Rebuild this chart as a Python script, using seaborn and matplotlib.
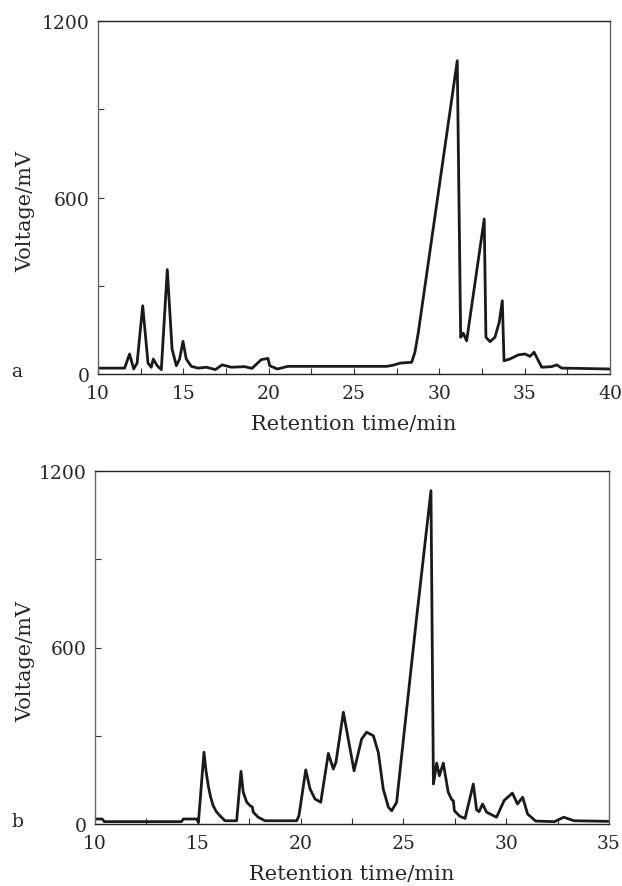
import matplotlib
matplotlib.use("Agg")
import matplotlib.pyplot as plt
from matplotlib.ticker import MultipleLocator
import pandas as pd
import seaborn as sns

# Panel a: chromatogram, retention time (min) vs voltage (mV)
TIME_A = [10.0, 11.56, 11.85, 12.09, 12.29, 12.62, 12.93, 13.12, 13.24, 13.47, 13.71,
          14.06, 14.34, 14.59, 14.78, 14.98, 15.17, 15.47, 15.86, 16.35, 16.88, 17.27,
          17.82, 18.6, 19.02, 19.57, 19.96, 20.06, 20.51, 21.13, 26.9, 27.3, 27.7,
          28.38, 28.57, 28.77, 31.05, 31.25, 31.4, 31.5, 31.6, 32.63, 32.73, 32.97,
          33.26, 33.51, 33.69, 33.79, 34.14, 34.63, 35.02, 35.31, 35.55, 36.0, 36.58,
          36.88, 37.17, 38.24, 40.0]
VOLT_A = [20, 20, 68, 17, 37, 232, 37, 23, 51, 28, 15,
          355, 85, 28, 51, 111, 51, 26, 20, 23, 15, 31,
          23, 25, 19, 49, 53, 28, 17, 26, 26, 30, 37,
          40, 74, 142, 1065, 125, 139, 125, 113, 527, 125, 110,
          125, 176, 249, 45, 51, 65, 68, 60, 74, 23, 25,
          31, 20, 19, 17]

# Panel b
TIME_B = [10.0, 10.35, 10.45, 14.2, 14.3, 14.95, 15.03, 15.3, 15.4, 15.51, 15.62,
          15.75, 15.9, 16.08, 16.32, 16.89, 17.1, 17.21, 17.38, 17.55, 17.65, 17.7,
          17.94, 18.27, 19.81, 19.92, 20.25, 20.46, 20.7, 20.98, 21.35, 21.59, 21.72,
          22.08, 22.6, 22.97, 23.21, 23.54, 23.78, 24.02, 24.27, 24.43, 24.67, 25.16,
          25.64, 26.34, 26.46, 26.62, 26.75, 26.94, 27.18, 27.35, 27.43, 27.48, 27.75,
          28.0, 28.4, 28.56, 28.68, 28.85, 29.05, 29.53, 29.9, 30.3, 30.55, 30.8,
          31.04, 31.43, 32.35, 32.8, 33.3, 35.0]
VOLT_B = [17, 17, 8, 8, 17, 17, 5, 244, 180, 130, 92,
          62, 42, 28, 11, 11, 179, 108, 74, 62, 58, 40,
          23, 11, 11, 28, 184, 119, 85, 74, 240, 187, 210,
          380, 181, 289, 312, 300, 243, 119, 57, 45, 74, 391,
          700, 1133, 136, 207, 164, 207, 108, 83, 79, 45, 26,
          19, 136, 48, 42, 68, 40, 23, 80, 105, 68, 91,
          34, 10, 8, 23, 11, 9]

PANELS = [
    ("a", TIME_A, VOLT_A, (10, 40)),
    ("b", TIME_B, VOLT_B, (10, 35)),
]

sns.set_theme(style="ticks")
plt.rcParams["font.family"] = ["DejaVu Serif"]
TICK_FS = 13.5
LABEL_FS = 15

fig = plt.figure(figsize=(6.22, 8.87), dpi=100)
W, H = 622, 887
boxes = [(98, 22, 610, 375), (95, 472, 609, 825)]

for (letter, t, v, xlim), (x0, y0, x1, y1) in zip(PANELS, boxes):
    ax = fig.add_axes([x0 / W, 1 - y1 / H, (x1 - x0) / W, (y1 - y0) / H])
    df = pd.DataFrame({"time": t, "voltage": v})
    sns.lineplot(data=df, x="time", y="voltage", ax=ax, color="#1a1a1a",
                 linewidth=2.0, sort=False)
    ax.set_xlim(*xlim)
    ax.set_ylim(0, 1200)
    ax.xaxis.set_major_locator(MultipleLocator(5))
    ax.xaxis.set_minor_locator(MultipleLocator(2.5))
    ax.yaxis.set_major_locator(MultipleLocator(600))
    ax.yaxis.set_minor_locator(MultipleLocator(300))
    ax.tick_params(which="both", direction="in", length=4, width=0.8,
                   color="#333333", labelsize=TICK_FS)
    ax.tick_params(axis="x", pad=7.5)
    ax.tick_params(axis="y", pad=6)
    for side, sp in ax.spines.items():
        sp.set_visible(True)
        sp.set_linewidth(1.0)
        sp.set_color("#222222" if side in ("top", "bottom") else "#666666")
    ax.set_xlabel("Retention time/min", fontsize=LABEL_FS, labelpad=8)
    ax.set_ylabel("Voltage/mV", fontsize=LABEL_FS)
    ax.yaxis.set_label_coords(-(x0 - 35) / (x1 - x0), 0.463)
    fig.text(17 / W, 1 - (y1 - 3) / H, letter, fontsize=TICK_FS, ha="center", va="center")

fig.savefig("out.png", dpi=100)
